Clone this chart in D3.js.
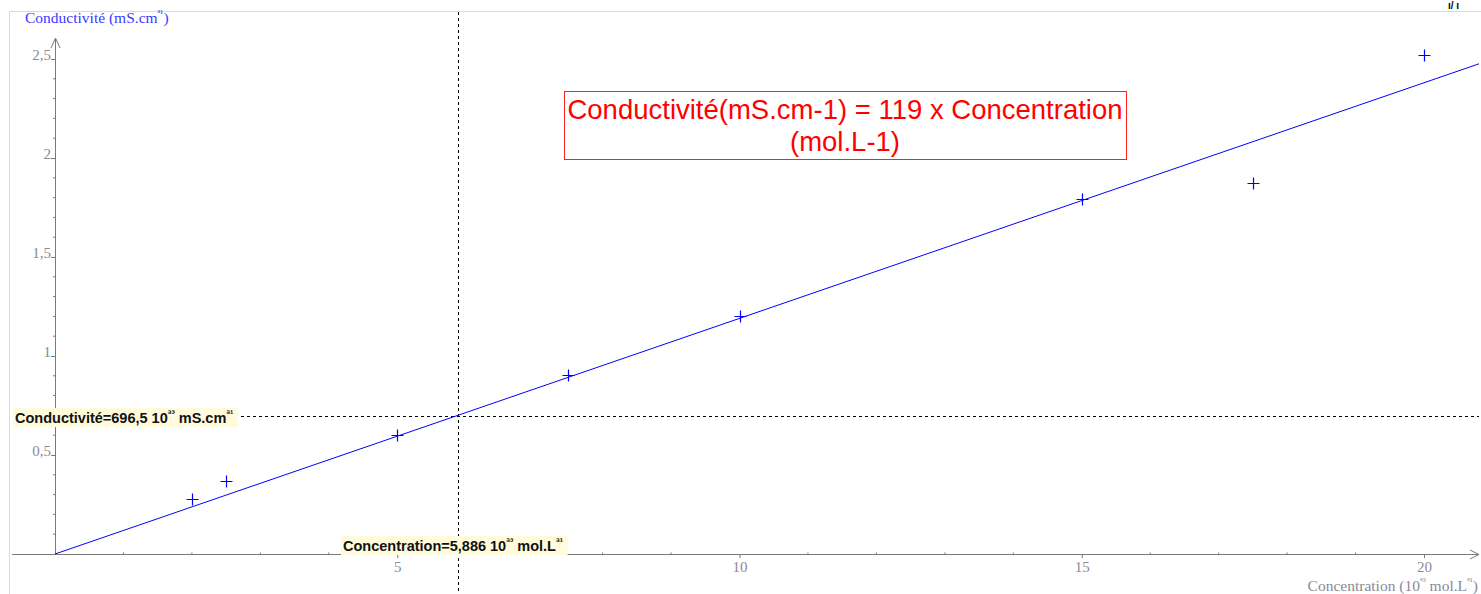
<!DOCTYPE html>
<html>
<head>
<meta charset="utf-8">
<script src="https://cdn.jsdelivr.net/npm/d3@7"></script>
<style>
  html, body { margin: 0; padding: 0; background: #fff; }
  svg { display: block; }
  .axis path, .axis line { stroke: #7a7a7a; }
  .axis text { font-family: "Liberation Serif", serif; font-size: 15px; fill: #8a8a98; }
</style>
</head>
<body>
<div id="chart"></div>
<script>
// measured points (x in 10^-3 mol/L, y in mS/cm)
const concentration = [2, 2.5, 5, 7.5, 10, 15, 17.5, 20];
const conductivity = [0.278, 0.369, 0.601, 0.904, 1.202, 1.793, 1.874, 2.52];
// regression through origin: 119 mS.cm-1 per mol.L-1 => 0.119 per 10^-3 mol.L-1
const slope = 0.119;
// cursor read-out
const cursorX = 5.886;
const cursorY = 0.6965;
const xTicks = [5, 10, 15, 20];
const yTicks = [0.5, 1, 1.5, 2, 2.5];

const W = 1481, H = 594;
const svg = d3.select('#chart').append('svg').attr('width', W).attr('height', H);

// x: 0 -> 55px, 20 -> 1424px ; y: 0 -> 554px, 2.5 -> 59px
const x = d3.scaleLinear().domain([0, 20]).range([55, 1424]);
const y = d3.scaleLinear().domain([0, 2.5]).range([554, 59]);
const xMax = x.invert(1479);
const yMax = y.invert(38);

// light frame of the graph area
svg.append('path')
  .attr('d', `M9.5,${H}V11.5H${W}`)
  .attr('fill', 'none').attr('stroke', '#d6dae6');

// glyphs in top right corner
svg.append('text').attr('x', 1448).attr('y', 9)
  .style('font', 'bold 10px Arial').text('ı/ ı');

// x axis
const xAxisG = svg.append('g').attr('class', 'axis')
  .attr('transform', `translate(0,${y(0)})`)
  .call(d3.axisBottom(x).tickValues(xTicks).tickSizeInner(4).tickSizeOuter(0).tickFormat(d3.format('d')));
xAxisG.select('.domain').remove();
xAxisG.selectAll('text').attr('dy', '0').attr('y', 18);
xAxisG.append('line').attr('x1', 12).attr('x2', x(xMax)).attr('y1', 0.5).attr('y2', 0.5).attr('stroke', '#7a7a7a');
xAxisG.append('path')
  .attr('d', `M${x(xMax) - 9},-4L${x(xMax)},0.5L${x(xMax) - 9},5`)
  .attr('fill', 'none').attr('stroke', '#7a7a7a');
// minor ticks each unit
xAxisG.selectAll('.minor').data(d3.range(1, 21).filter(v => v % 5 !== 0))
  .enter().append('line').attr('class', 'minor')
  .attr('x1', d => x(d)).attr('x2', d => x(d)).attr('y1', -1.5).attr('y2', 0.5)
  .attr('stroke', '#7a7a7a');

// y axis
const yAxisG = svg.append('g').attr('class', 'axis')
  .attr('transform', `translate(${x(0)},0)`)
  .call(d3.axisLeft(y).tickValues(yTicks).tickSizeInner(4).tickSizeOuter(0)
    .tickFormat(d => String(d).replace('.', ',')));
yAxisG.select('.domain').remove();
yAxisG.selectAll('text').attr('dy', '0').attr('x', -4);
yAxisG.append('line').attr('x1', 0.5).attr('x2', 0.5).attr('y1', y(yMax)).attr('y2', y(0) + 1).attr('stroke', '#7a7a7a');
yAxisG.append('path')
  .attr('d', `M-4,${y(yMax) + 10}L0.5,${y(yMax)}L5,${y(yMax) + 10}`)
  .attr('fill', 'none').attr('stroke', '#7a7a7a');
yAxisG.selectAll('.minor').data(d3.range(1, 26).map(v => v / 10).filter(v => Math.round(v * 10) % 5 !== 0))
  .enter().append('line').attr('class', 'minor')
  .attr('x1', -2).attr('x2', 0.5).attr('y1', d => y(d)).attr('y2', d => y(d))
  .attr('stroke', '#7a7a7a');

// text with raised exponents
function supText(sel, parts, supSize) {
  parts.forEach(p => {
    if (p.sup) sel.append('tspan').attr('dy', -6).style('font-size', supSize).text(p.sup);
    else sel.append('tspan').attr('dy', p.down ? 6 : 0).text(p.t);
  });
  return sel;
}
supText(svg.append('text').attr('x', 25).attr('y', 23)
  .style('font-family', '"Liberation Serif", serif').style('font-size', '15.5px').attr('fill', '#3a3aff'),
  [{ t: 'Conductivité (mS.cm' }, { sup: 'ª¹' }, { t: ')', down: true }], '10px');

supText(svg.append('text').attr('x', 1478).attr('y', 591).attr('text-anchor', 'end')
  .style('font-family', '"Liberation Serif", serif').style('font-size', '15.5px').attr('fill', '#8a8a98'),
  [{ t: 'Concentration (10' }, { sup: 'ª³' }, { t: ' mol.L', down: true }, { sup: 'ª¹' }, { t: ')', down: true }], '10px');

// cursor dashed lines
svg.append('line')
  .attr('x1', Math.round(x(cursorX)) + 0.5).attr('x2', Math.round(x(cursorX)) + 0.5)
  .attr('y1', 12).attr('y2', H)
  .attr('stroke', '#000').attr('stroke-dasharray', '3,3');
svg.append('line')
  .attr('x1', x(0)).attr('x2', x(xMax))
  .attr('y1', Math.round(y(cursorY)) + 0.5).attr('y2', Math.round(y(cursorY)) + 0.5)
  .attr('stroke', '#000').attr('stroke-dasharray', '3,3');

// regression line
svg.append('line')
  .attr('x1', x(0)).attr('y1', y(0))
  .attr('x2', x(xMax)).attr('y2', y(slope * xMax))
  .attr('stroke', '#0000ff').attr('stroke-width', 1);

// measured points as crosses
const pts = svg.append('g');
concentration.forEach((c, i) => {
  const px = Math.round(x(c)) + 0.5, py = Math.round(y(conductivity[i])) + 0.5;
  pts.append('path')
    .attr('d', `M${px - 6},${py}H${px + 6}M${px},${py - 6}V${py + 6}`)
    .attr('stroke', '#0000ff').attr('stroke-width', 1.2).attr('fill', 'none');
});

// cursor read-out labels
function readout(tx, ty, parts) {
  const g = svg.append('g');
  const t = g.append('text').attr('x', tx).attr('y', ty)
    .style('font-family', '"Liberation Sans", Arial, sans-serif').style('font-weight', 'bold').style('font-size', '14.5px')
    .attr('fill', '#111');
  supText(t, parts, '10px');
  const bb = t.node().getBBox();
  g.insert('rect', 'text').attr('x', bb.x - 2).attr('y', ty - 15).attr('width', bb.width + 6).attr('height', 19)
    .attr('fill', '#fffbdc');
}
readout(15, 423, [{ t: 'Conductivité=696,5 10' }, { sup: 'ª³' }, { t: ' mS.cm', down: true }, { sup: 'ª¹' }]);
readout(343, 551, [{ t: 'Concentration=5,886 10' }, { sup: 'ª³' }, { t: ' mol.L', down: true }, { sup: 'ª¹' }]);

// equation box
svg.append('rect').attr('x', 564.5).attr('y', 91.5).attr('width', 562).attr('height', 68)
  .attr('fill', '#fff').attr('stroke', '#ff2020');
const eq = svg.append('text').attr('text-anchor', 'middle')
  .style('font-family', '"Liberation Sans", Arial, sans-serif').style('font-size', '27.5px').attr('fill', '#ff0000');
eq.append('tspan').attr('x', 845).attr('y', 119).text('Conductivité(mS.cm-1) = 119 x Concentration');
eq.append('tspan').attr('x', 845).attr('y', 151).text('(mol.L-1)');
</script>
</body>
</html>
